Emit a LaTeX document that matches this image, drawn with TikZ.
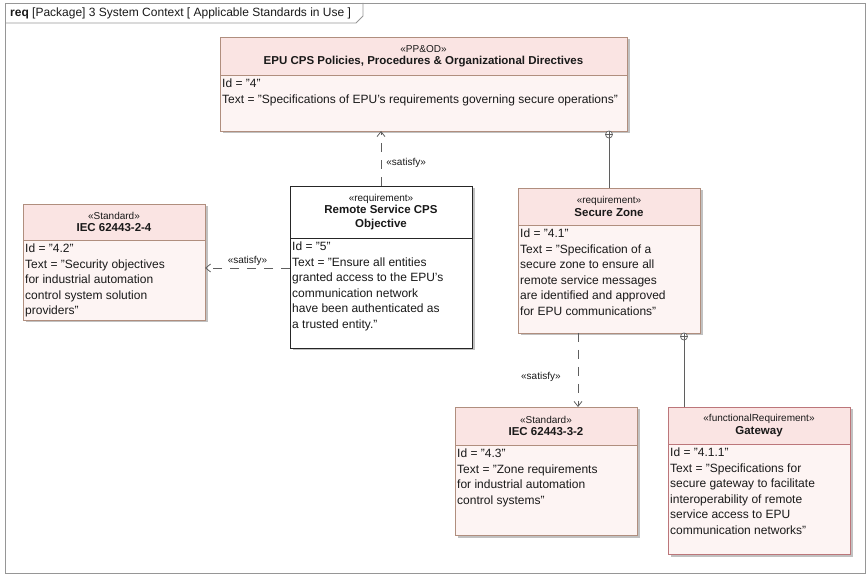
\documentclass[tikz,border=0pt]{standalone}
\usepackage{fontspec}
\setmainfont{Liberation Sans}
\usetikzlibrary{arrows.meta,shadows,fit}

\definecolor{reqborder}{RGB}{176,142,126}
\definecolor{gwborder}{RGB}{188,118,122}
\definecolor{headpink}{RGB}{250,228,227}
\definecolor{bodypink}{RGB}{253,244,243}
\definecolor{framegray}{RGB}{150,150,150}
\definecolor{linegray}{RGB}{95,95,95}
\definecolor{inktext}{RGB}{25,25,25}

\tikzset{
  boxbase/.style={line width=0.9pt, inner sep=0pt, outer sep=0pt,
    drop shadow={shadow xshift=2.5pt, shadow yshift=-2.5pt, fill=black!30, opacity=0.8}},
  pinkbox/.style={boxbase, draw=reqborder, fill=bodypink},
  pinkbox head/.style={fill=headpink},
  pinkbox rule/.style={draw=reqborder, line width=0.9pt},
  gwbox/.style={boxbase, draw=gwborder, fill=bodypink},
  gwbox head/.style={fill=headpink},
  gwbox rule/.style={draw=gwborder, line width=0.9pt},
  whitebox/.style={boxbase, draw=black!85, fill=white},
  whitebox head/.style={fill=white},
  whitebox rule/.style={draw=black!85, line width=0.9pt},
  titletext/.style={align=center, inner sep=0pt, text=inktext,
    font=\fontsize{11.5}{14}\selectfont\bfseries},
  bodytext/.style={align=left, inner sep=0pt, anchor=north west, text=inktext,
    font=\fontsize{12}{15.5}\selectfont},
  satisfy/.style={draw=linegray, line width=0.8pt, dash pattern=on 9pt off 8pt,
    -{Straight Barb[length=5pt,width=8pt]}},
  owns/.style={draw=linegray, line width=0.9pt},
  ownmark/.style={circle, draw=linegray, fill=white, line width=0.7pt,
    minimum size=7pt, inner sep=0pt,
    path picture={\draw[linegray, line width=0.6pt]
      (path picture bounding box.north) -- (path picture bounding box.south)
      (path picture bounding box.west) -- (path picture bounding box.east);}},
  relname/.style={font=\fontsize{10}{12}\selectfont, text=inktext, inner sep=1pt},
}

% #1 style, #2 name, #3 NW corner, #4 SE corner, #5 header height,
% #6 stereotype, #7 title, #8 attributes
\newcommand\reqbox[8]{%
  \node[#1, fit={(#3)(#4)},
    path picture={\fill[#1 head] (path picture bounding box.north west)
      rectangle ([yshift=-#5pt]path picture bounding box.north east);}] (#2) {};
  \draw[#1 rule] ([yshift=-#5pt]#2.north west) -- ([yshift=-#5pt]#2.north east);
  \draw[#1 rule, fill=none] (#2.north west) rectangle (#2.south east);
  \node[titletext] (#2-title) at ([yshift={-0.5*#5pt}]#2.north)
    {{\fontsize{10}{11.5}\selectfont\mdseries «#6»}\\[-1.5pt]#7};
  \node[bodytext] (#2-body) at ([xshift=2pt,yshift={-#5pt-4pt}]#2.north west) {#8};
}

\begin{document}
\begin{tikzpicture}[x=1pt,y=-1pt]
\useasboundingbox (0,0) rectangle (868,577);

% diagram frame with its name tab
\draw[framegray, line width=0.9pt] (5,3) rectangle (865,573);
\draw[framegray, line width=0.9pt] (5,23) -- (356,23) -- (363,16) -- (363,3);
\node[anchor=west, inner sep=0pt, font=\fontsize{12}{14}\selectfont, text=inktext] (frametitle) at (10,13)
  {\textbf{req} [Package] 3 System Context [ Applicable Standards in Use ]};

\reqbox{pinkbox}{pp}{220,37}{627,131}{38}{PP\&OD}
  {EPU CPS Policies, Procedures \& Organizational Directives}
  {Id = "4"\\Text = "Specifications of EPU's requirements governing secure operations"}

\reqbox{pinkbox}{stdA}{23,204}{205,320}{36}{Standard}{IEC 62443-2-4}
  {Id = "4.2"\\Text = "Security objectives\\for industrial automation\\control system solution\\providers"}

\reqbox{whitebox}{rem}{290,186}{472,348}{52}{requirement}{Remote Service CPS\\Objective}
  {Id = "5"\\Text = "Ensure all entities\\granted access to the EPU's\\communication network\\have been authenticated as\\a trusted entity."}

\reqbox{pinkbox}{sz}{518,188}{700,333}{37}{requirement}{Secure Zone}
  {Id = "4.1"\\Text = "Specification of a\\secure zone to ensure all\\remote service messages\\are identified and approved\\for EPU communications"}

\reqbox{pinkbox}{stdB}{455,407}{637,535}{38}{Standard}{IEC 62443-3-2}
  {Id = "4.3"\\Text = "Zone requirements\\for industrial automation\\control systems"}

\reqbox{gwbox}{gw}{668,407}{850,554}{37}{functionalRequirement}{Gateway}
  {Id = "4.1.1"\\Text = "Specifications for\\secure gateway to facilitate\\interoperability of remote\\service access to EPU\\communication networks"}

% satisfy dependencies
\draw[satisfy] (rem.north) -- (rem.north |- pp.south)
  node[relname, pos=0.42, anchor=west, xshift=4pt] (lbl1) {«satisfy»};

\coordinate (leftend) at ([yshift=-6pt]stdA.east);
\draw[satisfy] (rem.west |- leftend) -- (leftend)
  node[relname, midway, above=1pt] (lbl2) {«satisfy»};

\coordinate (szdep) at ([xshift=-31pt]sz.south);
\draw[satisfy] (szdep) -- (szdep |- stdB.north)
  node[relname, pos=0.6, left=16pt] (lbl3) {«satisfy»};

% containment
\draw[owns] (sz.north) -- (sz.north |- pp.south);
\node[ownmark] (own1) at ([yshift=-3.5pt]sz.north |- pp.south) {};

\coordinate (szown) at ([xshift=-16pt]sz.south east);
\draw[owns] (szown) -- (szown |- gw.north);
\node[ownmark] (own2) at ([yshift=-3.5pt]szown) {};
\end{tikzpicture}
\end{document}
